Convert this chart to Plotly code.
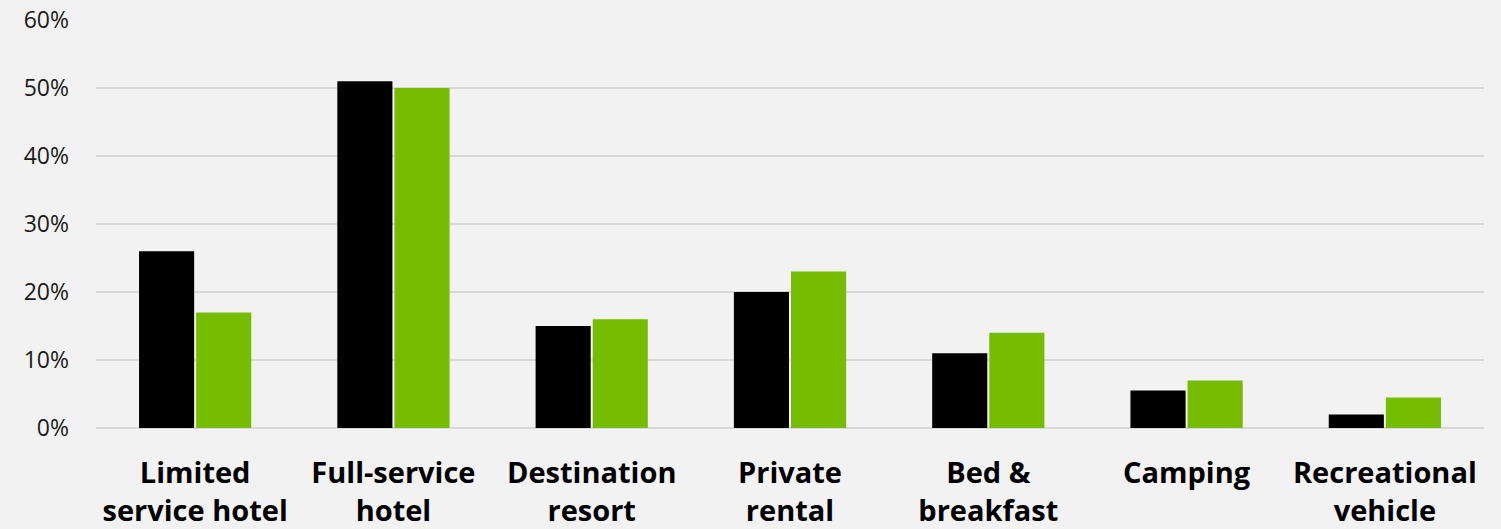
import plotly.graph_objects as go

categories = [
    "Limited<br>service hotel",
    "Full-service<br>hotel",
    "Destination<br>resort",
    "Private<br>rental",
    "Bed &<br>breakfast",
    "Camping",
    "Recreational<br>vehicle",
]
series_a = [26, 51, 15, 20, 11, 5.5, 2]
series_b = [17, 50, 16, 23, 14, 7, 4.5]
y_ticks = [0, 10, 20, 30, 40, 50, 60]
y_tick_labels = ["0%", "10%", "20%", "30%", "40%", "50%", "60%"]

fig = go.Figure()
fig.add_trace(go.Bar(x=categories, y=series_a, name="Group A",
                     marker=dict(color="#000000", line=dict(width=0))))
fig.add_trace(go.Bar(x=categories, y=series_b, name="Group B",
                     marker=dict(color="#76BC00", line=dict(width=0))))

fig.update_layout(
    width=1501, height=529,
    margin=dict(l=96, r=17, t=20, b=101),
    paper_bgcolor="#F2F2F2", plot_bgcolor="#F2F2F2",
    barmode="group", bargap=0.424, bargroupgap=0.035,
    showlegend=False,
    font=dict(family="Open Sans", color="#000000"),
)
fig.update_xaxes(
    showgrid=False, showline=False, zeroline=False, automargin=False,
    tickfont=dict(family="Open Sans", size=29, color="#000000", weight="bold"),
    ticks="", ticklabelstandoff=25,
)
fig.update_yaxes(
    range=[0, 60], tickmode="array", tickvals=y_ticks, ticktext=y_tick_labels,
    showgrid=True, gridcolor="#D9D9D9", gridwidth=1.5,
    zeroline=True, zerolinecolor="#D9D9D9", zerolinewidth=1.5,
    showline=False, ticks="", ticklabelstandoff=26, automargin=False,
    tickfont=dict(family="Open Sans", size=23, color="#1A1A1A"),
)

fig.write_html("out.html")
